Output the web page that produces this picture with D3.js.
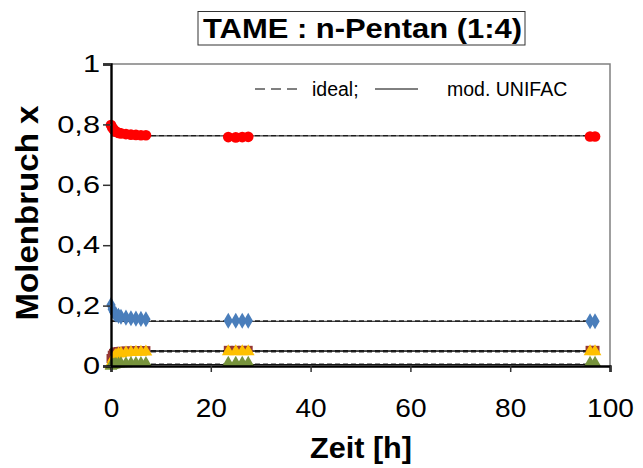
<!DOCTYPE html>
<html>
<head>
<meta charset="utf-8">
<script src="https://cdn.jsdelivr.net/npm/d3@7/dist/d3.min.js"></script>
<style>
  html, body { margin: 0; padding: 0; background: #fff; }
  svg { display: block; font-family: Arial, "Liberation Sans", sans-serif; }
</style>
</head>
<body>
<svg id="chart" width="643" height="468"></svg>
<script>
// Sampling times [h]
const times = [0, 0.25, 0.5, 0.75, 1, 1.5, 2, 3, 4, 5, 6, 7, 23.5, 25, 26.3, 27.5, 96, 97];

// Measured mole fractions per component
const seriesRed    = [0.798, 0.790, 0.784, 0.779, 0.776, 0.772, 0.770, 0.768, 0.766, 0.765, 0.764, 0.764, 0.758, 0.757, 0.758, 0.759, 0.760, 0.760];
const seriesBlue   = [0.202, 0.188, 0.180, 0.174, 0.170, 0.166, 0.163, 0.160, 0.158, 0.157, 0.156, 0.155, 0.150, 0.150, 0.150, 0.150, 0.148, 0.148];
const seriesBrown  = [0.025, 0.036, 0.042, 0.045, 0.047, 0.048, 0.049, 0.050, 0.050, 0.051, 0.051, 0.051, 0.052, 0.052, 0.052, 0.052, 0.052, 0.052];
const seriesYellow = [0.002, 0.015, 0.025, 0.032, 0.036, 0.040, 0.042, 0.044, 0.045, 0.046, 0.046, 0.047, 0.048, 0.048, 0.048, 0.048, 0.048, 0.048];
const seriesGreen  = [0.000, 0.002, 0.004, 0.005, 0.006, 0.007, 0.008, 0.008, 0.009, 0.009, 0.009, 0.009, 0.010, 0.010, 0.010, 0.010, 0.010, 0.010];

// Model equilibrium values (order: red, blue, brown, yellow, green)
const modelTimes   = [0, 97];
const idealValues  = [0.763, 0.149, 0.051, 0.047, 0.006];
const unifacValues = [0.762, 0.148, 0.050, 0.049, 0.005];

// Axis ticks
const xTicks = [0, 20, 40, 60, 80, 100];
const yTicks = [0, 0.2, 0.4, 0.6, 0.8, 1];

const title = "TAME : n-Pentan (1:4)";
const xTitle = "Zeit [h]";
const yTitle = "Molenbruch x";

const svg = d3.select("#chart");
const x = d3.scaleLinear().domain([0, 100]).range([111, 610]);
const y = d3.scaleLinear().domain([0, 1]).range([366, 64]);
const fmt = d => d === 0 || d === 1 ? String(d) : d3.format(".1f")(d).replace(".", ",");

// Widen glyphs horizontally by factor k (or to a fixed length)
function stretch(sel, k, fixed) {
  sel.each(function () {
    const len = fixed || this.getComputedTextLength() * k;
    d3.select(this).attr("textLength", len).attr("lengthAdjust", "spacingAndGlyphs");
  });
}

// Plot frame (top and right)
svg.append("path")
  .attr("d", `M${x(0)},${y(1)}H${x(100)}V${y(0)}`)
  .attr("fill", "none").attr("stroke", "#808080").attr("stroke-width", 1.5);

// Model lines
const line = d3.line().x(d => x(d[0])).y(d => y(d[1]));
idealValues.forEach(v => {
  svg.append("path")
    .attr("d", line(modelTimes.map(t => [t, v])))
    .attr("fill", "none").attr("stroke", "#333").attr("stroke-width", 1.3)
    .attr("stroke-dasharray", "5,3");
});
unifacValues.forEach(v => {
  svg.append("path")
    .attr("d", line(modelTimes.map(t => [t, v])))
    .attr("fill", "none").attr("stroke", "#111").attr("stroke-width", 1);
});

// Markers
function drawSeries(values, symbolType, size, color) {
  svg.append("g").selectAll("path")
    .data(values.map((v, i) => [times[i], v]))
    .join("path")
    .attr("transform", d => `translate(${x(d[0])},${y(d[1])})`)
    .attr("d", d3.symbol().type(symbolType).size(size))
    .attr("fill", color);
}
drawSeries(seriesBrown, d3.symbolSquare, 80, "#953735");
drawSeries(seriesYellow, d3.symbolTriangle, 70, "#FFC000");
drawSeries(seriesGreen, d3.symbolTriangle, 70, "#77933C");
drawSeries(seriesBlue, d3.symbolDiamond, 75, "#4A7EBB");
drawSeries(seriesRed, d3.symbolCircle, 90, "#FF0000");

// Axes
const xAxis = svg.append("g").attr("transform", `translate(0,${y(0)})`)
  .call(d3.axisBottom(x).tickValues(xTicks).tickSize(6).tickFormat(d3.format("d")));
const yAxis = svg.append("g").attr("transform", `translate(${x(0)},0)`)
  .call(d3.axisLeft(y).tickValues(yTicks).tickSize(8).tickPadding(3).tickFormat(fmt));
[xAxis, yAxis].forEach(a => {
  a.select(".domain").attr("stroke", "#000").attr("stroke-width", 2.4);
  a.selectAll(".tick line").attr("stroke", "#333").attr("stroke-width", 1.5);
  a.selectAll(".tick text").attr("fill", "#000")
    .style("font-family", "Arial, 'Liberation Sans', sans-serif");
});
xAxis.selectAll(".tick text").style("font-size", "26px").attr("y", 51).attr("dy", null);
yAxis.selectAll(".tick text").style("font-size", "24px");
stretch(xAxis.selectAll(".tick text"), 1.08);
stretch(yAxis.selectAll(".tick text"), 1.28);

// Axis titles
const xt = svg.append("text").attr("x", 361).attr("y", 458).attr("text-anchor", "middle")
  .style("font-size", "29px").style("font-weight", "bold").text(xTitle);
stretch(xt, 1, 102);
const yt = svg.append("text").attr("transform", `translate(38,213) rotate(-90)`).attr("text-anchor", "middle")
  .style("font-size", "31px").style("font-weight", "bold").text(yTitle);
stretch(yt, 1, 215);

// Title box
svg.append("rect").attr("x", 198).attr("y", 11.5).attr("width", 327).attr("height", 33.5)
  .attr("fill", "#fff").attr("stroke", "#333").attr("stroke-width", 1);
const tt = svg.append("text").attr("x", 362.5).attr("y", 38).attr("text-anchor", "middle")
  .style("font-size", "28px").style("font-weight", "bold").text(title);
stretch(tt, 1, 319);

// Legend
const lg = svg.append("g").style("font-size", "19.5px");
lg.append("line").attr("x1", 255).attr("x2", 297).attr("y1", 89).attr("y2", 89)
  .attr("stroke", "#000").attr("stroke-width", 1).attr("stroke-dasharray", "10,6");
lg.append("text").attr("x", 312).attr("y", 96).text("ideal;");
lg.append("line").attr("x1", 375).attr("x2", 418).attr("y1", 89).attr("y2", 89)
  .attr("stroke", "#000").attr("stroke-width", 1);
lg.append("text").attr("x", 447).attr("y", 96).text("mod. UNIFAC");
</script>
</body>
</html>
